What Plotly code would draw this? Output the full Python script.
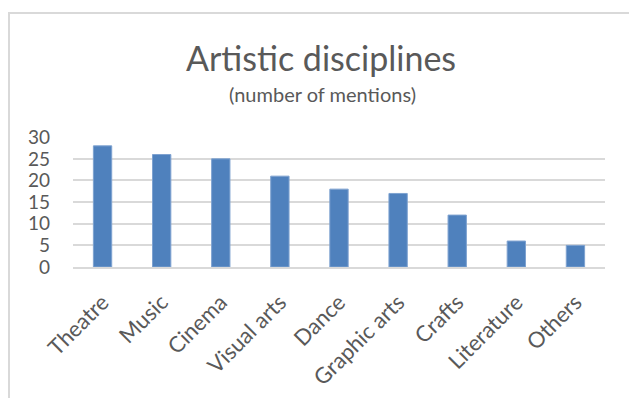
import plotly.graph_objects as go

categories = ["Theatre", "Music", "Cinema", "Visual arts", "Dance",
              "Graphic arts", "Crafts", "Literature", "Others"]
mentions = [28, 26, 25, 21, 18, 17, 12, 6, 5]
y_ticks = [0, 5, 10, 15, 20, 25, 30]

W, H = 629, 398
L, R, T, B = 73, 24, 137, 131
pw, ph = W - L - R, H - T - B

def px_x(x):
    return (x - L) / pw

def px_y(y):
    return (H - B - y) / ph

FONT = "Lato, Carlito, Calibri, sans-serif"
GREY = "#595959"

fig = go.Figure(go.Bar(
    x=categories, y=mentions,
    marker=dict(color="#4f81bd", line=dict(color="#7ea2d0", width=1)),
    width=0.31,
))

fig.update_layout(
    width=W, height=H,
    margin=dict(l=L, r=R, t=T, b=B, autoexpand=False),
    paper_bgcolor="white", plot_bgcolor="white",
    showlegend=False,
    font=dict(family=FONT, color=GREY),
    xaxis=dict(
        tickangle=-45, tickfont=dict(size=22, color=GREY, family=FONT),
        showline=True, linecolor="#d9d9d9", linewidth=1.5,
        ticks="", showgrid=False, automargin=False,
        ticklabelstandoff=12,
    ),
    yaxis=dict(
        range=[0, 30.05], tickvals=y_ticks,
        tickfont=dict(size=19, color=GREY, family=FONT),
        showgrid=True, gridcolor="#d9d9d9", gridwidth=1.5,
        zeroline=False, showline=False, ticks="",
        ticklabelstandoff=22, automargin=False,
    ),
    shapes=[dict(
        type="rect", xref="paper", yref="paper",
        x0=px_x(9), x1=px_x(660), y0=px_y(430), y1=px_y(13),
        line=dict(color="#d9d9d9", width=2), fillcolor="rgba(0,0,0,0)",
        layer="below",
    )],
    annotations=[
        dict(text="Artistic disciplines", xref="paper", yref="paper",
             x=px_x(321), y=px_y(58), xanchor="center", yanchor="middle",
             showarrow=False, font=dict(size=34, color=GREY, family=FONT)),
        dict(text="(number of mentions)", xref="paper", yref="paper",
             x=px_x(322), y=px_y(94), xanchor="center", yanchor="middle",
             showarrow=False, font=dict(size=20, color=GREY, family=FONT)),
    ],
)

fig.write_html(
    "out.html",
    config={"displayModeBar": False},
    post_script="document.body.style.margin='0';document.body.style.overflow='hidden';",
)
